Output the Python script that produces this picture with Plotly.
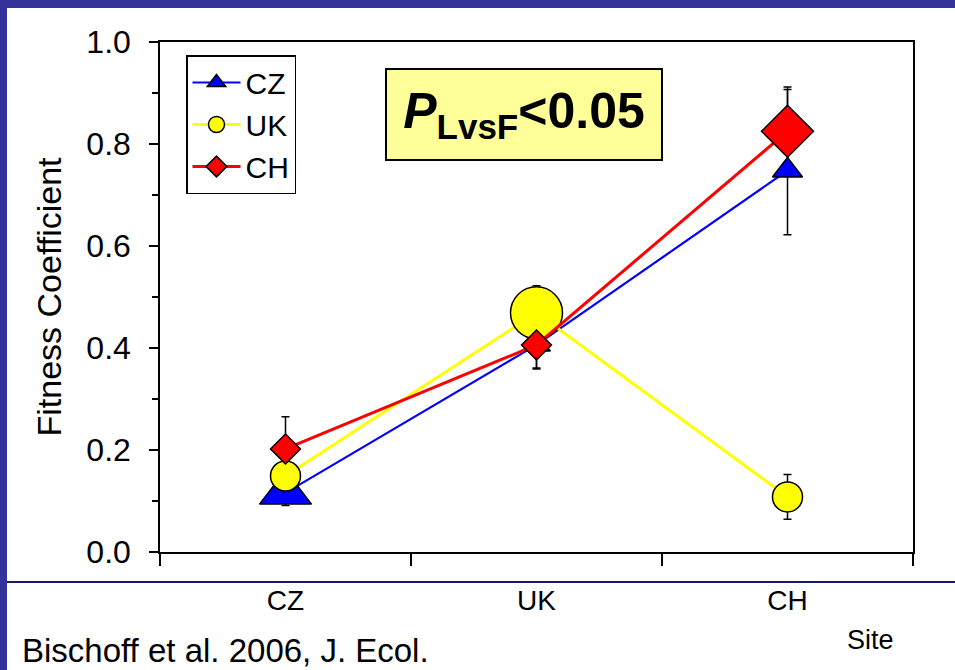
import plotly.graph_objects as go

sites = ["CZ", "UK", "CH"]
site_pos = [0, 1, 2]

cz_vals = [0.116, 0.406, 0.748]
cz_err_plus = [0.03, 0.045, 0.159]
cz_err_minus = [0.025, 0.045, 0.126]
cz_sizes = [45, 24, 26]

uk_vals = [0.149, 0.469, 0.108]
uk_err = [0.03, 0.053, 0.044]
uk_sizes = [30, 52, 30]

ch_vals = [0.202, 0.406, 0.825]
ch_err = [0.063, 0.047, 0.087]
ch_sizes = [23, 23, 40]

W, H = 955, 670
L, R, T, B = 160, 42, 42, 118
PW, PH = W - L - R, H - T - B


def xp(px):
    return (px - L) / PW


def yp(py):
    return (H - B - py) / PH


FONT = "Arial, Liberation Sans, sans-serif"

fig = go.Figure()

# error bars first, so the markers cover them
for vals, eplus, eminus in [(cz_vals, cz_err_plus, cz_err_minus),
                            (uk_vals, uk_err, uk_err),
                            (ch_vals, ch_err, ch_err)]:
    fig.add_trace(go.Scatter(
        x=site_pos, y=vals, mode="markers", showlegend=False, hoverinfo="skip",
        marker=dict(size=1, opacity=0),
        error_y=dict(type="data", array=eplus, arrayminus=eminus,
                     color="black", thickness=1.5, width=4),
    ))

fig.add_trace(go.Scatter(
    x=site_pos, y=cz_vals, name="CZ", mode="lines+markers",
    line=dict(color="#0000FF", width=2.2),
    marker=dict(symbol="triangle-up", size=cz_sizes, color="#0000FF", opacity=1,
                line=dict(color="black", width=1.5)),
))
fig.add_trace(go.Scatter(
    x=site_pos, y=uk_vals, name="UK", mode="lines+markers",
    line=dict(color="#FFFF00", width=3),
    marker=dict(symbol="circle", size=uk_sizes, color="#FFFF00", opacity=1,
                line=dict(color="black", width=1.5)),
))
fig.add_trace(go.Scatter(
    x=site_pos, y=ch_vals, name="CH", mode="lines+markers",
    line=dict(color="#FF0000", width=3),
    marker=dict(symbol="diamond", size=ch_sizes, color="#FF0000", opacity=1,
                line=dict(color="black", width=1.5)),
))

fig.update_layout(
    width=W, height=H,
    margin=dict(l=L, r=R, t=T, b=B, autoexpand=False),
    paper_bgcolor="#333399",
    plot_bgcolor="white",
    font=dict(family=FONT, color="black", size=28),
    showlegend=True,
    legend=dict(
        x=xp(186), y=yp(55), xanchor="left", yanchor="top",
        bgcolor="white", bordercolor="black", borderwidth=1.5,
        font=dict(size=30, family=FONT),
        itemsizing="trace", tracegroupgap=0, itemwidth=48,
    ),
    xaxis=dict(
        range=[-0.5, 2.5], tickvals=site_pos, ticktext=sites,
        ticks="", showgrid=False, zeroline=False,
        showline=True, linecolor="black", linewidth=1.5, mirror=True,
        tickfont=dict(size=28, family=FONT),
        ticklabelstandoff=23,
        minor=dict(tick0=-0.5, dtick=1, ticks="outside", ticklen=12,
                   tickwidth=1.5, tickcolor="black", showgrid=False),
        fixedrange=True,
    ),
    yaxis=dict(
        range=[0, 1], dtick=0.2, tick0=0, tickformat=".1f",
        ticks="outside", ticklen=9, tickwidth=1.5, tickcolor="black",
        showgrid=False, zeroline=False,
        showline=True, linecolor="black", linewidth=1.5, mirror=True,
        tickfont=dict(size=32, family=FONT),
        ticklabelstandoff=12,
        minor=dict(dtick=0.1, ticks="outside", ticklen=6, tickwidth=1.5,
                   tickcolor="black", showgrid=False),
        title=dict(text="Fitness Coefficient", font=dict(size=34, family=FONT),
                   standoff=14),
        fixedrange=True,
    ),
    shapes=[
        dict(type="rect", xref="paper", yref="paper",
             x0=xp(7), x1=xp(W + 20), y0=yp(H + 20), y1=yp(8),
             fillcolor="white", line=dict(width=0), layer="below"),
        dict(type="line", xref="paper", yref="paper",
             x0=xp(7), x1=xp(W + 20), y0=yp(582), y1=yp(582),
             line=dict(color="#1A1A5E", width=2)),
    ],
    annotations=[
        dict(text="<b><i>P</i><sub>LvsF</sub>&lt;0.05</b>",
             xref="paper", yref="paper", x=xp(524), y=yp(114.5),
             xanchor="center", yanchor="middle", showarrow=False,
             font=dict(size=50, family=FONT, color="black"),
             bgcolor="#FFFF99", bordercolor="black", borderwidth=2,
             borderpad=0, width=274, height=89, align="center", valign="middle"),
        dict(text="Site", xref="paper", yref="paper", x=xp(870), y=yp(640),
             xanchor="center", yanchor="middle", showarrow=False,
             font=dict(size=27, family=FONT)),
        dict(text="Bischoff et al. 2006, J. Ecol.", xref="paper", yref="paper",
             x=xp(20), y=yp(650), xanchor="left", yanchor="middle",
             showarrow=False, font=dict(size=33, family=FONT)),
    ],
)

fig.write_html("out.html", config={"displayModeBar": False},
               post_script="document.body.style.margin='0';document.body.style.overflow='hidden';")
